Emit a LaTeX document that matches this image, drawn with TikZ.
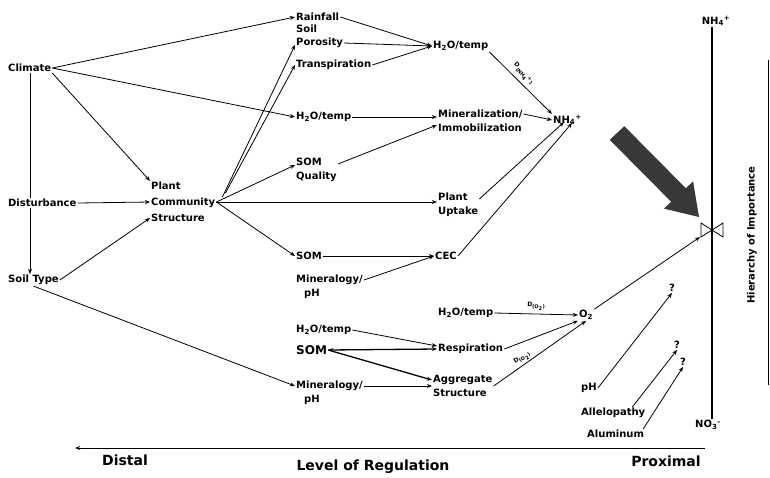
\documentclass[tikz,border=0pt]{standalone}
\usepackage{fontspec}
\setmainfont{DejaVu Sans}
\usetikzlibrary{arrows.meta, calc}
\tikzset{
  factor/.style={anchor=west, inner sep=1pt, align=left,
                 font=\fontsize{10}{14}\selectfont\bfseries},
  bigfactor/.style={factor, font=\fontsize{12}{14}\selectfont\bfseries},
  axislabel/.style={inner sep=1pt, font=\fontsize{14}{16}\selectfont\bfseries},
  flux/.style={font=\fontsize{6}{7}\selectfont\bfseries, sloped, above, inner sep=3pt},
  arrow/.style={-{Stealth[length=1.8mm, width=1.4mm]}, line width=0.8pt},
  twoway/.style={{Stealth[length=1.8mm, width=1.4mm]}-{Stealth[length=1.8mm, width=1.4mm]},
                 line width=1.3pt},
  link/.style={line width=0.8pt},
}

\begin{document}
\begin{tikzpicture}[x=1pt, y=-1pt]
  \useasboundingbox (0,0) rectangle (770,477);

  % distal factors
  \node[factor] (clim) at (7,68) {Climate};
  \node[factor] (dist) at (7,203) {Disturbance};
  \node[factor] (soil) at (7,280) {Soil Type};
  \node[factor, font=\fontsize{10}{16}\selectfont\bfseries] (pcs) at (150,202) {Plant\\Community\\Structure};

  % middle column
  \node[factor] (rain) at (295,17) {Rainfall};
  \node[factor, font=\fontsize{10}{13}\selectfont\bfseries] (poro) at (295,36) {Soil\\Porosity};
  \node[factor] (trans) at (295,65) {Transpiration};
  \node[factor] (htb) at (295,117) {H\textsubscript{2}O/temp};
  \node[factor] (somq) at (295,170) {SOM\\Quality};
  \node[factor] (soma) at (295,256) {SOM};
  \node[factor] (mina) at (295,287) {Mineralogy/\\\hspace*{8pt}pH};
  \node[factor] (htd) at (295,330) {H\textsubscript{2}O/temp};
  \node[bigfactor] (somb) at (295,350) {SOM};
  \node[factor] (minb) at (295,393) {Mineralogy/\\\hspace*{8pt}pH};

  % proximal column
  \node[factor] (hta) at (432,46) {H\textsubscript{2}O/temp};
  \node[factor] (mineral) at (437,121) {Mineralization/\\Immobilization};
  \node[factor] (upt) at (437,205) {Plant\\Uptake};
  \node[factor] (cec) at (434,256) {CEC};
  \node[factor] (htc) at (437,313) {H\textsubscript{2}O/temp};
  \node[factor] (resp) at (437,349) {Respiration};
  \node[factor] (aggr) at (432,386) {Aggregate\\Structure};

  \node[factor] (nha) at (552,120) {NH\textsubscript{4}\textsuperscript{+}};
  \node[factor] (oxy) at (578,315) {O\textsubscript{2}};
  \node[factor] (ph) at (580,388) {pH};
  \node[factor] (alle) at (580,413) {Allelopathy};
  \node[factor] (alum) at (586,434) {Aluminum};
  \node[factor, anchor=center] (qa) at (672,288) {?};
  \node[factor, anchor=center] (qb) at (677,345) {?};
  \node[factor, anchor=center] (qc) at (683,362) {?};

  % hierarchy scale
  \node[factor, anchor=center] (nhtop) at (716,21) {NH\textsubscript{4}\textsuperscript{+}};
  \node[factor, anchor=center] (nitr) at (708,425) {NO\textsubscript{3}\textsuperscript{-}};
  \coordinate (bow) at (712,230);
  \draw[line width=2.2pt] (nhtop.south -| bow) -- (nitr.north -| bow);
  \draw[line width=0.8pt] (bow) -- ++(-11,-7) -- ++(0,14) -- cycle
                          (bow) -- ++(11,-7) -- ++(0,14) -- cycle;
  \fill[black!78] (624.3,126.2) -- (685.8,188.2) -- (693.1,181.4) -- (699,217)
                  -- (663.9,208.6) -- (671.2,201.8) -- (609.7,139.8) -- cycle;
  \node[factor, anchor=center, rotate=90] (hier) at (752,235) {Hierarchy of Importance};
  \draw[line width=1pt] (768,60) -- (768,385);

  % level of regulation axis
  \coordinate (axr) at (705,448);
  \coordinate (axl) at (75,448);
  \draw[arrow, line width=1pt] (axr) -- (axl);
  \node[axislabel] (distal) at (125,460) {Distal};
  \node[axislabel] (level) at (373,467) {Level of Regulation};
  \node[axislabel] (prox) at (666,461) {Proximal};

  % distal links
  \coordinate (vx) at (30,0);
  \draw[arrow] (clim.east) -- (rain.west);
  \draw[arrow] (clim.east) -- (htb.west);
  \draw[arrow] (clim.south east) -- (pcs.north west);
  \draw[link] (clim.south -| vx) -- (dist.north -| vx);
  \draw[arrow] (dist.south -| vx) -- (soil.north -| vx);
  \draw[arrow] (dist.east) -- (pcs.west);
  \draw[arrow] (soil.east) -- ($(pcs.west)+(0,16)$);
  \draw[arrow] (soil.south) -- ($(minb.west)+(0,-7)$);

  % plant community links
  \draw[arrow] ($(pcs.east)+(6,-5)$) -- ($(poro.west)+(0,9)$);
  \draw[arrow] ($(pcs.east)+(9,-9)$) -- (trans.west);
  \draw[arrow] (pcs.east) -- ($(somq.west)+(0,-5)$);
  \draw[arrow] (pcs.east) -- (pcs.east -| upt.west);
  \draw[arrow] (pcs.east) -- (soma.west);

  % water and NH4 links
  \draw[arrow] (rain.east) -- (hta.west);
  \draw[arrow] ($(poro.east)+(0,7)$) -- (hta.west);
  \draw[arrow] (trans.east) -- (hta.west);
  \draw[arrow] (hta.south east) -- (nha.north west)
    node[flux, pos=0.45] {D\textsubscript{(NH\textsubscript{4}\textsuperscript{+})}};
  \draw[arrow] (htb.east) -- (htb.east -| mineral.west);
  \draw[arrow] ($(somq.east)+(0,-6)$) -- ($(mineral.west)+(0,4)$);
  \draw[arrow] ($(mineral.east)+(0,-7)$) -- (nha.west);
  \draw[arrow] ($(upt.east)+(0,-6)$) -- ($(nha.south west)+(12,-4)$);
  \draw[arrow] (cec.east) -- ($(nha.south west)+(20,-3)$);
  \draw[arrow] (soma.east) -- (cec.west);
  \draw[arrow] ($(mina.east)+(0,-7)$) -- (cec.west);

  % oxygen links
  \draw[arrow] (htc.east) -- (oxy.west)
    node[flux, midway] {D\textsubscript{(O\textsubscript{2})}};
  \draw[arrow] (htd.east) -- ($(resp.west)+(0,-3)$);
  \draw[twoway] (somb.east) -- (resp.west);
  \draw[arrow, line width=1.3pt] (somb.east) -- ($(aggr.west)+(0,-6)$);
  \draw[arrow] ($(minb.east)+(0,-7)$) -- (aggr.west);
  \draw[arrow] (resp.east) -- (oxy.south west);
  \draw[arrow] (aggr.east) -- (oxy.south)
    node[flux, pos=0.35, inner sep=1.5pt] {D\textsubscript{(O\textsubscript{2})}};
  \draw[arrow] (oxy.north east) -- ($(bow)+(-12,7)$);
  \draw[arrow] (ph.east) -- (qa.south);
  \draw[arrow] ($(alle.north east)+(-14,0)$) -- (qb.south);
  \draw[arrow] ($(alum.north east)+(-2,0)$) -- (qc.south);
\end{tikzpicture}
\end{document}
